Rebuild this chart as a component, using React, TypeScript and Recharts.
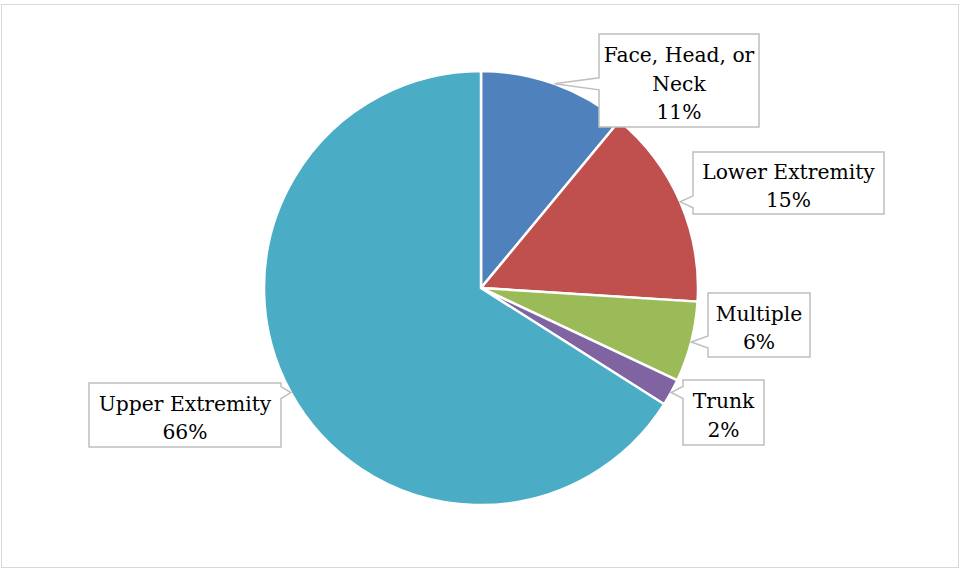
import React from 'react';
import { PieChart, Pie, Cell } from 'recharts';

// Injury location shares (percent)
const CATEGORIES = ['Face, Head, or Neck', 'Lower Extremity', 'Multiple', 'Trunk', 'Upper Extremity'];
const SHARES = [11, 15, 6, 2, 66];
// how each label is broken into lines inside its box
const LABEL_LINES = [['Face, Head, or', 'Neck'], ['Lower Extremity'], ['Multiple'], ['Trunk'], ['Upper Extremity']];

const COLORS = ['#4F81BD', '#C0504D', '#9BBB59', '#8064A2', '#4BACC6'];

// callout box placement (layout only)
const BOXES = [
  { x: 599, y: 34, w: 160, h: 93 },
  { x: 693, y: 152, w: 191, h: 62 },
  { x: 708, y: 293, w: 102, h: 64 },
  { x: 683, y: 380, w: 81, h: 65 },
  { x: 89, y: 383, w: 192, h: 64 },
];

const RADIAN = Math.PI / 180;
const FONT = '"DejaVu Serif", "Liberation Serif", serif';

const data = CATEGORIES.map((name, i) => ({ name, value: SHARES[i] }));
const total = SHARES.reduce((a, b) => a + b, 0);

const clamp = (v: number, lo: number, hi: number) => Math.max(lo, Math.min(hi, v));

// rectangle with a wedge pointing at (tx, ty)
function calloutPath(b: { x: number; y: number; w: number; h: number }, tx: number, ty: number) {
  const { x, y, w, h } = b;
  const half = 6;
  if (tx < x) {
    const c = clamp(ty, y + half, y + h - half);
    return `M${x},${y}H${x + w}V${y + h}H${x}V${c + half}L${tx},${ty}L${x},${c - half}Z`;
  }
  if (tx > x + w) {
    const c = clamp(ty, y + half, y + h - half);
    return `M${x},${y}H${x + w}V${c - half}L${tx},${ty}L${x + w},${c + half}V${y + h}H${x}Z`;
  }
  if (ty < y) {
    const c = clamp(tx, x + half, x + w - half);
    return `M${x},${y}H${c - half}L${tx},${ty}L${c + half},${y}H${x + w}V${y + h}H${x}Z`;
  }
  const c = clamp(tx, x + half, x + w - half);
  return `M${x},${y}H${x + w}V${y + h}H${c + half}L${tx},${ty}L${c - half},${y + h}Z`;
}

const renderLabel = (props: any) => {
  const { cx, cy, midAngle, outerRadius, index, value } = props;
  const tx = cx + outerRadius * Math.cos(-midAngle * RADIAN);
  const ty = cy + outerRadius * Math.sin(-midAngle * RADIAN);
  const box = BOXES[index];
  const lines = [...LABEL_LINES[index], `${Math.round((value / total) * 100)}%`];
  const lh = 28.5;
  const midX = box.x + box.w / 2;
  const firstY = box.y + box.h / 2 - ((lines.length - 1) * lh) / 2 + 3;
  return (
    <g key={`lbl-${index}`}>
      <path d={calloutPath(box, tx, ty)} fill="#fff" stroke="#BFBFBF" strokeWidth={1.5} />
      {lines.map((t, i) => (
        <text
          key={i}
          x={midX}
          y={firstY + i * lh}
          textAnchor="middle"
          dominantBaseline="central"
          fontFamily={FONT}
          fontSize={20.3}
          fill="#000"
        >
          {t}
        </text>
      ))}
    </g>
  );
};

export default function App() {
  return (
    <div style={{ position: 'fixed', left: 0, top: 0, width: 961, height: 571, background: '#fff' }}>
      <div
        style={{
          position: 'absolute',
          left: 1,
          top: 4,
          width: 956,
          height: 562,
          border: '1.5px solid #D9D9D9',
        }}
      />
      <PieChart width={961} height={571} margin={{ top: 0, right: 0, bottom: 0, left: 0 }}>
        <Pie
          data={data}
          dataKey="value"
          nameKey="name"
          cx={481}
          cy={288}
          outerRadius={217}
          startAngle={90}
          endAngle={-270}
          stroke="#fff"
          strokeWidth={2.5}
          labelLine={false}
          label={renderLabel}
          isAnimationActive={false}
        >
          {data.map((entry, index) => (
            <Cell key={`cell-${index}`} fill={COLORS[index % COLORS.length]} />
          ))}
        </Pie>
      </PieChart>
    </div>
  );
}
